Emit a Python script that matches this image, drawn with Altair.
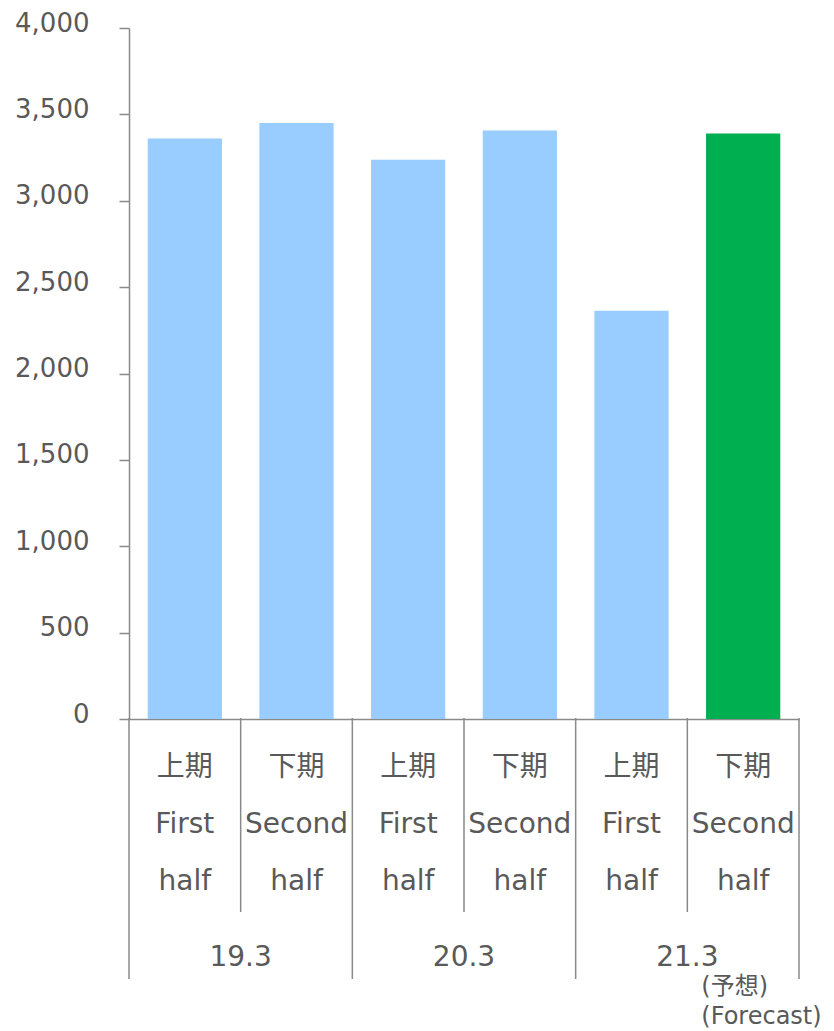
import altair as alt
import pandas as pd

# --- data ---
keys = ["0", "1", "2", "3", "4", "5"]
half_labels = ["上期|First|half", "下期|Second|half", "上期|First|half",
               "下期|Second|half", "上期|First|half", "下期|Second|half"]
values = [3360, 3450, 3238, 3407, 2363, 3390]
bar_colors = ["#99CCFF", "#99CCFF", "#99CCFF", "#99CCFF", "#99CCFF", "#00B050"]
years = ["19.3", "20.3", "21.3"]
year_pos = [1, 3, 5]
group_bounds = [0, 2, 4, 6]
inner_bounds = [1, 3, 5]
note_lines = ["(予想)", "(Forecast)"]

FONT = "DejaVu Sans, Noto Sans CJK JP"
TXT = "#595959"
LINE = "#8a8a8a"

bars_df = pd.DataFrame({
    "key": [k + "|" + l for k, l in zip(keys, half_labels)],
    "value": values,
    "color": bar_colors,
})
order = list(bars_df["key"])

bars = alt.Chart(bars_df).mark_bar().encode(
    x=alt.X("key:N", sort=order,
            scale=alt.Scale(paddingInner=0.335, paddingOuter=0.1675),
            axis=alt.Axis(title=None, ticks=False, labelAngle=0,
                          labelExpr="slice(split(datum.label, '|'), 1)",
                          labelFontSize=28, labelFont=FONT, labelColor=TXT,
                          labelLineHeight=57, labelPadding=34, labelBaseline="top",
                          domainColor=LINE, domainWidth=1.5)),
    y=alt.Y("value:Q", scale=alt.Scale(domain=[0, 4000], nice=False),
            axis=alt.Axis(title=None, values=list(range(0, 4001, 500)),
                          labelExpr="format(datum.value, ',.0f')",
                          grid=False, labelFontSize=26, labelFont=FONT, labelColor=TXT,
                          labelPadding=30, labelOffset=-5, tickSize=10,
                          tickColor=LINE, tickWidth=1.5,
                          domainColor=LINE, domainWidth=1.5)),
    color=alt.Color("color:N", scale=None),
)

xq = alt.Scale(domain=[0, 6], nice=False, zero=False)

outer = alt.Chart(pd.DataFrame({"p": group_bounds})).mark_rule(
    color=LINE, strokeWidth=1.5).encode(
    x=alt.X("p:Q", scale=xq, axis=None),
    y=alt.value(690), y2=alt.value(951),
)
inner = alt.Chart(pd.DataFrame({"p": inner_bounds})).mark_rule(
    color=LINE, strokeWidth=1.5).encode(
    x=alt.X("p:Q", scale=xq, axis=None),
    y=alt.value(690), y2=alt.value(884),
)
year_text = alt.Chart(pd.DataFrame({"p": year_pos, "t": years})).mark_text(
    font=FONT, fontSize=28, color=TXT, baseline="middle", align="center").encode(
    x=alt.X("p:Q", scale=xq, axis=None),
    y=alt.value(930),
    text="t:N",
)
note = alt.Chart(pd.DataFrame({"p": [year_pos[-1]], "t": ["\n".join(note_lines)]})).mark_text(
    font=FONT, fontSize=24, color=TXT, baseline="top", align="left",
    lineBreak="\n", lineHeight=30, dx=14).encode(
    x=alt.X("p:Q", scale=xq, axis=None),
    y=alt.value(947),
    text="t:N",
)

chart = alt.layer(bars, outer, inner, year_text, note).resolve_scale(
    x="independent"
).properties(
    width=670, height=691,
    autosize=alt.AutoSizeParams(type="none"),
    padding={"left": 121, "top": 20, "right": 27, "bottom": 312},
).configure_view(stroke=None)

chart.save("out.html", embed_options={"renderer": "svg", "actions": False})
